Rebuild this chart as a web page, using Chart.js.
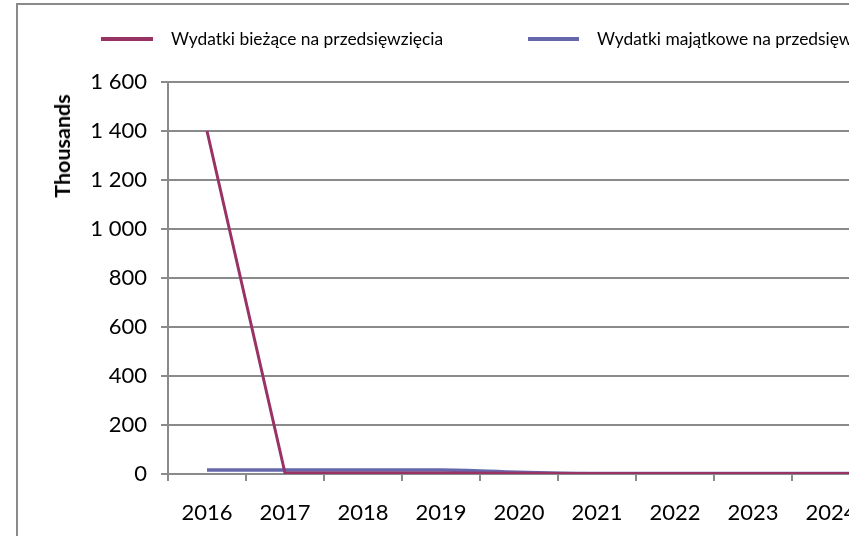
<!DOCTYPE html>
<html>
<head>
<meta charset="utf-8">
<script src="https://cdn.jsdelivr.net/npm/chart.js@4/dist/chart.umd.min.js"></script>
<style>
  html, body { margin: 0; padding: 0; background: #fff; }
  #frame { position: relative; width: 849px; height: 536px; overflow: hidden; background: #fff; }
  #border { position: absolute; left: 16px; top: 3px; width: 1200px; height: 800px; border: 2px solid #8a8a8a; box-sizing: border-box; }
  #chartBox { position: absolute; left: 0; top: 0; width: 960px; height: 536px; }
  .leg { position: absolute; font-family: Lato, sans-serif; font-size: 17.4px; color: #000; white-space: nowrap; line-height: 20px; }
  .swatch { position: absolute; height: 4px; }
  #ytitle { position: absolute; font-family: Lato, sans-serif; font-weight: bold; font-size: 21.5px; color: #000;
            left: 62px; top: 146px; transform: translate(-50%, -50%) rotate(-90deg); white-space: nowrap; }
</style>
</head>
<body>
<div id="frame">
  <div id="border"></div>
  <div id="chartBox"><canvas id="chart" width="960" height="536"></canvas></div>
  <div class="swatch" style="left:101px; top:37px; width:52px; background:#993366;"></div>
  <div class="leg" style="left:171px; top:29px;" id="leg1"></div>
  <div class="swatch" style="left:528px; top:37px; width:51px; background:#6667ab;"></div>
  <div class="leg" style="left:597px; top:29px;" id="leg2"></div>
  <div id="ytitle">Thousands</div>
</div>
<script>
const years = ['2016', '2017', '2018', '2019', '2020', '2021', '2022', '2023', '2024', '2025'];
const seriesNames = ['Wydatki bieżące na przedsięwzięcia', 'Wydatki majątkowe na przedsięwzięcia'];
const biezace = [1400, 4, 4, 4, 3, 2, 2, 2, 2, 2];
const majatkowe = [16, 16, 16, 16, 7, 2, 2, 2, 2, 2];
const yTicks = [0, 200, 400, 600, 800, 1000, 1200, 1400, 1600];

const gridColor = '#8a8a8a';
const tickFont = { family: 'Lato, sans-serif', size: 22 };

document.getElementById('leg1').textContent = seriesNames[0];
document.getElementById('leg2').textContent = seriesNames[1];

function fmtThousands(v) {
  return String(v).replace(/\B(?=(\d{3})+(?!\d))/g, ' ');
}

const ctx = document.getElementById('chart');
new Chart(ctx, {
  type: 'line',
  data: {
    labels: years,
    datasets: [{
      label: seriesNames[0],
      data: biezace,
      borderColor: '#993366',
      borderWidth: 3,
      pointRadius: 0,
      tension: 0,
    }, {
      label: seriesNames[1],
      data: majatkowe,
      borderColor: '#6667ab',
      borderWidth: 3.5,
      pointRadius: 0,
      cubicInterpolationMode: 'monotone',
    }]
  },
  options: {
    responsive: false,
    animation: false,
    layout: { padding: { left: 0, top: 82, right: 12, bottom: 0 } },
    plugins: {
      legend: { display: false },
      tooltip: { enabled: false }
    },
    scales: {
      x: {
        offset: true,
        grid: { display: true, drawOnChartArea: false, drawTicks: true, tickLength: 7, offset: true, color: gridColor, lineWidth: 2 },
        border: { color: gridColor, width: 2 },
        ticks: { font: tickFont, color: '#000', padding: 19, maxRotation: 0, autoSkip: false },
        afterFit: (s) => { s.height = 62; }
      },
      y: {
        min: 0,
        max: 1600,
        afterBuildTicks: (s) => { s.ticks = yTicks.map(v => ({ value: v })); },
        grid: { color: gridColor, lineWidth: 2, tickLength: 7 },
        border: { color: gridColor, width: 2 },
        ticks: { font: tickFont, color: '#000', padding: 14, callback: (v) => fmtThousands(v) },
        afterFit: (s) => { s.width = 168; }
      }
    }
  }
});
</script>
</body>
</html>
